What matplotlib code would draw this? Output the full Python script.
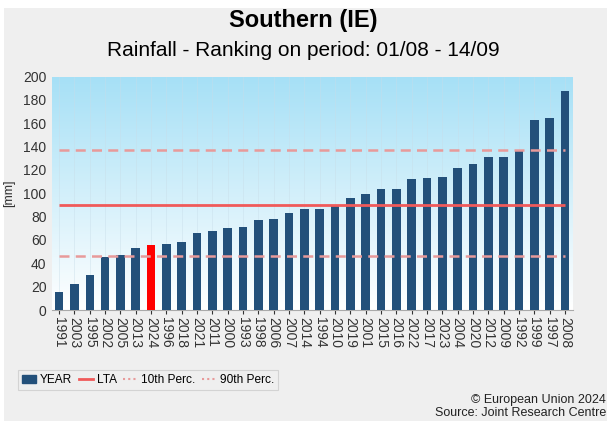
import numpy as np
import matplotlib.pyplot as plt
from matplotlib.patches import Rectangle
from matplotlib.lines import Line2D
from matplotlib.colors import LinearSegmentedColormap

plt.rcParams['font.family'] = ['Liberation Sans', 'DejaVu Sans']

years = ['1991', '2003', '1995', '2002', '2005', '2013', '2024', '1996', '2018', '2021',
         '2011', '2000', '1993', '1998', '2006', '2007', '2014', '1994', '2010', '2019',
         '2001', '2015', '2016', '2022', '2017', '2023', '2004', '2020', '2012', '2009',
         '1992', '1999', '1997', '2008']
rain = [15.7, 22.3, 30.0, 45.7, 47.0, 52.9, 55.7, 56.3, 58.3, 66.3,
        67.4, 70.6, 71.4, 77.1, 78.3, 82.9, 86.3, 86.3, 89.7, 96.0,
        99.1, 103.4, 104.0, 112.0, 113.1, 114.0, 121.7, 124.9, 131.4, 131.4,
        136.3, 162.9, 164.6, 188.0]
current_year = '2024'
lta = 90.3
p10 = 46.0
p90 = 136.9

bar_col = '#23507a'
hi_col = '#ff0000'

fig = plt.figure(figsize=(6.07, 4.21), dpi=100, facecolor='white')
# grey panel (white margin at top/left like the screenshot)
fig.patches.append(Rectangle((4/607, 0), 1, 1 - 8/421, transform=fig.transFigure,
                             facecolor='#efefef', edgecolor='none', zorder=-10))

ax = fig.add_axes([52/607, 1 - 310/421, 521/607, 233.5/421])
x = np.arange(len(years))
cols = [hi_col if y == current_year else bar_col for y in years]

# gradient background
cmap = LinearSegmentedColormap.from_list('bg', ['#ffffff', '#a6e0f6'])
grad = np.linspace(0, 1, 256).reshape(-1, 1)
ax.imshow(grad, cmap=cmap, origin='lower', aspect='auto',
          extent=[-0.46, 33.52, 0, 200], zorder=0)

for xi in x:
    ax.axvline(xi, color='#c8dde8', lw=0.5, zorder=1, alpha=0.6)

ax.bar(x, rain, width=0.55, color=cols, zorder=3)
ax.hlines(lta, 0, len(years) - 1, color='#f05a5a', lw=2, zorder=4)
ax.hlines([p10, p90], 0, len(years) - 1, color='#e89a9a', lw=1.8,
          linestyles=(0, (4, 2.5)), zorder=4)

ax.set_xlim(-0.46, 33.52)
ax.set_ylim(0, 200)
ax.set_yticks(np.arange(0, 201, 20))
ax.set_xticks(x)
ax.set_xticklabels(years, rotation=270, fontsize=10)
ax.tick_params(axis='y', length=0, labelsize=10, colors='#333333', pad=4)
ax.tick_params(axis='x', length=3, color='#333333', labelcolor='#333333', pad=2)
for s in ['top', 'right', 'left']:
    ax.spines[s].set_visible(False)
ax.spines['bottom'].set_color('#aaaaaa')
ax.set_ylabel('[mm]', fontsize=9, color='#333333', labelpad=6)

fig.text(0.5, 1 - 20/421, 'Southern (IE)', ha='center', va='center',
         fontsize=17, fontweight='bold')
fig.text(0.5, 1 - 50/421, 'Rainfall - Ranking on period: 01/08 - 14/09',
         ha='center', va='center', fontsize=15)

handles = [Rectangle((0, 0), 1, 1, color=bar_col),
           Line2D([], [], color='#f05a5a', lw=2),
           Line2D([], [], color='#e89a9a', lw=1.5, ls=(0, (1, 1.5))),
           Line2D([], [], color='#e89a9a', lw=1.5, ls=(0, (1, 1.5)))]
leg = fig.legend(handles, ['YEAR', 'LTA', '10th Perc.', '90th Perc.'],
                 loc='center left', bbox_to_anchor=(12/607, 1 - 380/421),
                 ncol=4, fontsize=8.6, frameon=True, fancybox=False,
                 handlelength=1.2, handletextpad=0.3, columnspacing=0.55,
                 borderpad=0.35)
leg.get_frame().set_edgecolor('#cccccc')
leg.get_frame().set_facecolor('#efefef')
leg.get_frame().set_linewidth(0.8)

fig.text(0.998, 1 - 400/421, '\u00a9 European Union 2024', ha='right', va='center',
         fontsize=9, color='#222222')
fig.text(0.998, 1 - 413/421, 'Source: Joint Research Centre', ha='right', va='center',
         fontsize=9, color='#222222')

fig.savefig('out.png', dpi=100, facecolor=fig.get_facecolor())
